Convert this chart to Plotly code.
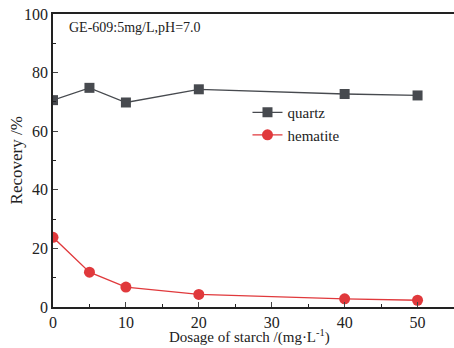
import plotly.graph_objects as go

dosage = [0, 5, 10, 20, 40, 50]
quartz = [70.6, 74.8, 69.8, 74.3, 72.7, 72.2]
hematite = [23.8, 11.9, 6.8, 4.3, 2.8, 2.3]

fig = go.Figure()
fig.add_trace(go.Scatter(x=dosage, y=quartz, name="quartz", mode="lines+markers",
                         line=dict(color="#474a4f", width=1.3),
                         marker=dict(symbol="square", size=10, color="#474a4f")))
fig.add_trace(go.Scatter(x=dosage, y=hematite, name="hematite", mode="lines+markers",
                         line=dict(color="#e0393c", width=1.3),
                         marker=dict(symbol="circle", size=11, color="#e0393c")))

fig.update_layout(
    width=454, height=348,
    margin=dict(l=53, r=0, t=14, b=41, autoexpand=False),
    paper_bgcolor="white", plot_bgcolor="white",
    font=dict(family="Liberation Serif", size=16, color="#222"),
    showlegend=True,
    legend=dict(x=0.485, y=0.72, xanchor="left", yanchor="top",
                bgcolor="rgba(0,0,0,0)", font=dict(size=15), tracegroupgap=0,
                itemwidth=30),
    annotations=[
        dict(text="GE-609:5mg/L,pH=7.0", x=0.035, y=0.985, xref="paper", yref="paper",
             xanchor="left", yanchor="top", showarrow=False,
             font=dict(size=14, family="Liberation Serif", color="#222")),
        dict(text="Dosage of starch /(mg·L<sup>-1</sup>)", x=0.49, y=-0.138, xref="paper", yref="paper",
             xanchor="center", yanchor="bottom", showarrow=False, borderpad=0,
             font=dict(size=15, family="Liberation Serif", color="#222")),
        dict(text="Recovery /%", x=-0.09, y=0.5, xref="paper", yref="paper", textangle=-90,
             xanchor="center", yanchor="middle", showarrow=False,
             font=dict(size=17, family="Liberation Serif", color="#222")),
    ],
)
fig.update_xaxes(range=[0, 55], tickvals=[0, 10, 20, 30, 40, 50], ticks="inside", ticklen=5,
                 showline=True, linecolor="#222", linewidth=1.5, mirror=True, showgrid=False,
                 zeroline=False, automargin=False,
                 minor=dict(tickvals=[5, 15, 25, 35, 45], ticks="inside", ticklen=3, tickcolor="#222"))
fig.update_yaxes(range=[0, 100], tickvals=[0, 20, 40, 60, 80, 100], ticks="inside", ticklen=5,
                 showline=True, linecolor="#222", linewidth=1.5, mirror=True, showgrid=False,
                 zeroline=False, automargin=False,
                 minor=dict(tickvals=[10, 30, 50, 70, 90], ticks="inside", ticklen=3, tickcolor="#222"))

fig.write_html("out.html", config={"displayModeBar": False},
               post_script="document.body.style.margin='0';document.body.style.overflow='hidden';")
